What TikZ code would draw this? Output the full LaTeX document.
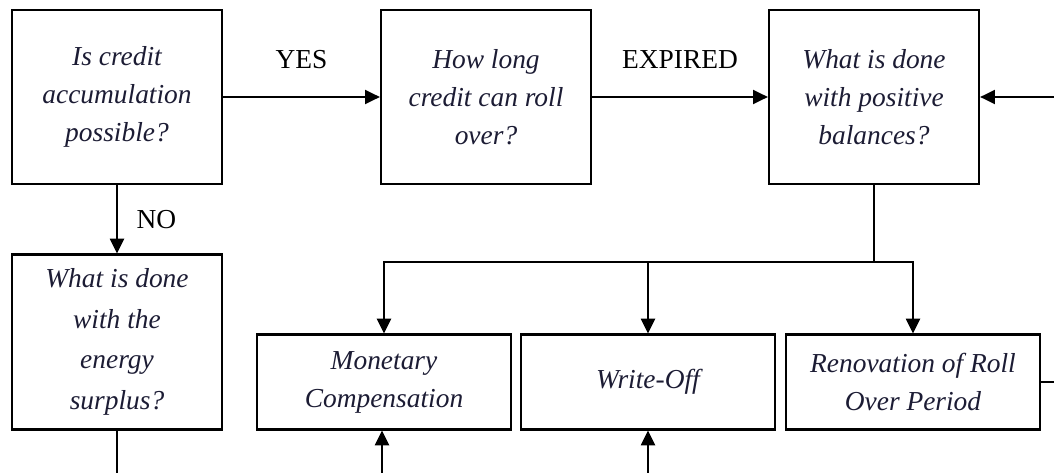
\documentclass[tikz,border=0pt]{standalone}
\usepackage{fontspec}
\setmainfont{Liberation Serif}
\usetikzlibrary{arrows.meta}
\usetikzlibrary{calc}

\definecolor{inkblue}{RGB}{28,28,52}

\begin{document}
\begin{tikzpicture}[x=0.025cm, y=-0.025cm,
  qbox/.style={draw, line width=1.6pt, align=center, inner sep=2pt,
    font=\fontsize{19.5}{27}\selectfont\itshape, text=inkblue},
  ansbox/.style={qbox, minimum width=6.33cm, minimum height=2.37cm},
  link/.style={line width=1.3pt},
  arr/.style={link, -{Triangle[length=10.5pt, width=10pt]}},
  tag/.style={font=\fontsize{19.5}{24}\selectfont}]
  \useasboundingbox (0,0) rectangle (1054,473);

  \node[qbox, minimum width=5.25cm, minimum height=4.35cm] (credit) at (117,97) {Is credit\\accumulation\\possible?};
  \node[qbox, minimum width=5.25cm, minimum height=4.35cm] (roll) at (486,97) {How long\\credit can roll\\over?};
  \node[qbox, minimum width=5.25cm, minimum height=4.35cm] (pos) at (874,97) {What is done\\with positive\\balances?};
  \node[qbox, minimum width=5.25cm, minimum height=4.37cm, font=\fontsize{19.5}{29}\selectfont\itshape] (surplus) at (117,342) {What is done\\with the\\energy\\surplus?};

  \node[ansbox] (money) at (384,382) {Monetary\\Compensation};
  \node[ansbox] (write) at (648,382) {Write-Off};
  \node[ansbox] (renew) at (913,382) {Renovation of Roll\\Over Period};

  \coordinate (split) at (874,262);
  \coordinate (backin) at (1054,97);
  \coordinate (backout) at (1054,382);
  \coordinate (downA) at (117,473);
  \coordinate (upB) at (382,473);
  \coordinate (upC) at (648,473);

  \draw[arr] (credit) -- (roll) node[tag, midway, above=16pt] {YES};
  \draw[arr] (roll) -- (pos) node[tag, midway, above=16pt] {EXPIRED};
  \draw[arr] (credit) -- (surplus) node[tag, midway, right=10pt] {NO};
  \draw[arr] (backin) -- (pos);

  \draw[link] (pos) -- (split);
  \draw[arr] (split) -| (money);
  \draw[arr] (split) -| (write);
  \draw[arr] (split) -| (renew);

  \draw[link] (renew) -- (backout);
  \draw[link] (surplus) -- (downA);
  \draw[arr] (upB) -- (money.south -| upB);
  \draw[arr] (upC) -- (write);
\end{tikzpicture}
\end{document}
